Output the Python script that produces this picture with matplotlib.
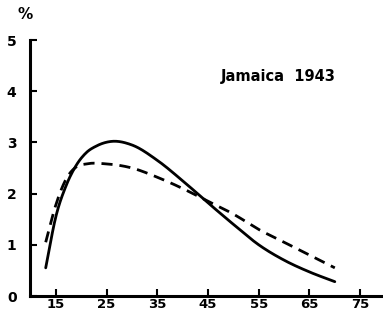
import numpy as np
import matplotlib
matplotlib.use("Agg")
import matplotlib.pyplot as plt

ages_solid = [13, 15, 17, 19, 21, 23, 26, 30, 35, 40, 45, 50, 55, 60, 65, 70]
vals_solid = [0.55, 1.55, 2.15, 2.55, 2.8, 2.93, 3.02, 2.95, 2.65, 2.25, 1.82, 1.4, 1.0, 0.7, 0.47, 0.28]
ages_dash = [13, 15, 17, 19, 21, 25, 30, 35, 40, 45, 50, 55, 60, 65, 70]
vals_dash = [1.05, 1.78, 2.28, 2.52, 2.58, 2.58, 2.5, 2.32, 2.1, 1.85, 1.6, 1.3, 1.05, 0.8, 0.55]
xticks = [15, 25, 35, 45, 55, 65, 75]
yticks = [0, 1, 2, 3, 4, 5]

fig = plt.figure(figsize=(3.83, 3.15), dpi=100)
ax = fig.add_axes([0.0796, 0.0603, 0.9204, 0.8127])

def smooth(x, y):
    xs = np.linspace(min(x), max(x), 300)
    x = np.asarray(x, float); y = np.asarray(y, float)
    d = np.gradient(y, x)
    out = np.empty_like(xs)
    for i, xv in enumerate(xs):
        k = min(np.searchsorted(x, xv, side='right') - 1, len(x) - 2)
        h = x[k+1] - x[k]
        t = (xv - x[k]) / h
        h00 = 2*t**3 - 3*t**2 + 1
        h10 = t**3 - 2*t**2 + t
        h01 = -2*t**3 + 3*t**2
        h11 = t**3 - t**2
        out[i] = h00*y[k] + h10*h*d[k] + h01*y[k+1] + h11*h*d[k+1]
    return xs, out

xs, ys = smooth(ages_solid, vals_solid)
ax.plot(xs, ys, color='black', lw=2.0, solid_capstyle='round')
xd, yd = smooth(ages_dash, vals_dash)
ax.plot(xd, yd, color='black', lw=2.0, linestyle=(0, (4, 2.5)))

ax.set_xlim(10, 79.5)
ax.set_ylim(0, 5)
for s in ['top', 'right']:
    ax.spines[s].set_visible(False)
for s in ['left', 'bottom']:
    ax.spines[s].set_linewidth(2.2)
ax.set_xticks(xticks)
ax.set_yticks(yticks)
ax.tick_params(axis='both', direction='in', length=5, width=1.5, labelsize=10)
ax.tick_params(axis='y', pad=10)
ax.tick_params(axis='x', pad=1.5, labelsize=9.5)
for lab in ax.get_xticklabels() + ax.get_yticklabels():
    lab.set_fontweight('bold')

fig.text(0.065, 0.955, '%', fontsize=11, fontweight='bold', ha='center', va='center')
ax.text(0.702, 0.858, 'Jamaica  1943', transform=ax.transAxes, fontsize=10.5,
        fontweight='bold', ha='center', va='center')

fig.savefig('out.png', dpi=100)
